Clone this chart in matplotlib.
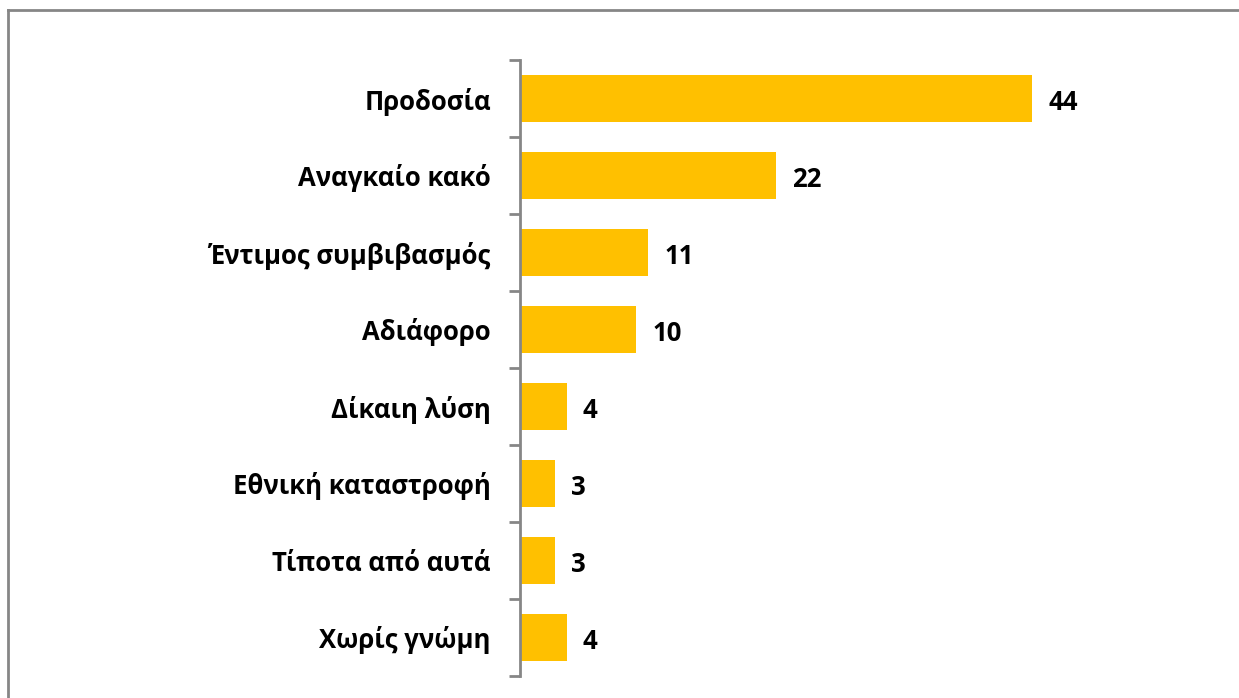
import matplotlib
matplotlib.use("Agg")
import matplotlib.pyplot as plt
from matplotlib.lines import Line2D

categories = ["Προδοσία", "Αναγκαίο κακό", "Έντιμος συμβιβασμός", "Αδιάφορο",
              "Δίκαιη λύση", "Εθνική καταστροφή", "Τίποτα από αυτά", "Χωρίς γνώμη"]
values = [44, 22, 11, 10, 4, 3, 3, 4]

plt.rcParams['font.family'] = ['Open Sans', 'DejaVu Sans']

fig = plt.figure(figsize=(12.39, 6.98), dpi=100)
# axes: spine at x=520, from y=60 to y=676
ax = fig.add_axes([520 / 1239, (698 - 676) / 698, 680 / 1239, 616 / 698])

n = len(categories)
pos = list(range(n))
ax.barh(pos, values, height=0.6, color='#FFC000', edgecolor='none')
ax.set_ylim(n - 0.5, -0.5)
ax.set_xlim(0, 680 / (512 / 44))

ax.set_yticks(pos)
ax.set_yticklabels(categories, fontsize=18.5, fontweight='bold')
ax.tick_params(axis='y', which='major', length=0, pad=21)
ax.set_yticks([i - 0.5 for i in range(n + 1)], minor=True)
ax.tick_params(axis='y', which='minor', length=8, width=2, color='#868686', direction='out')
ax.set_xticks([])

for s in ['top', 'right', 'bottom']:
    ax.spines[s].set_visible(False)
ax.spines['left'].set_color('#868686')
ax.spines['left'].set_linewidth(2)

for i, v in enumerate(values):
    ax.text(v + 1.4, i + 0.05, str(v), va='center', ha='left', fontsize=18.5, fontweight='bold')

# outer border (only top and left visible in reference)
fig.add_artist(Line2D([7.5 / 1239, 1], [1 - 9.5 / 698, 1 - 9.5 / 698], color='#868686', lw=2,
                      transform=fig.transFigure))
fig.add_artist(Line2D([7.5 / 1239, 7.5 / 1239], [0, 1 - 9.5 / 698], color='#868686', lw=2,
                      transform=fig.transFigure))

fig.savefig('out.png', dpi=100)
